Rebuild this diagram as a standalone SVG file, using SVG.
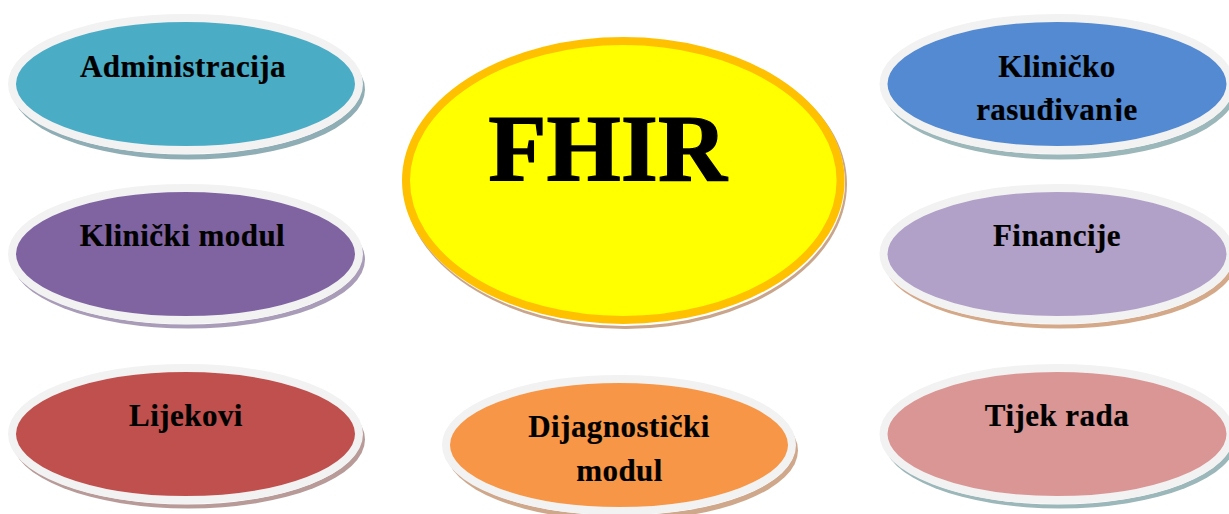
<svg xmlns="http://www.w3.org/2000/svg" width="1229" height="514" viewBox="0 0 1229 514">
<style>
.sh{stroke:none}
.gap{fill:#fff;stroke:none}
.e{stroke:#f2f2f2;stroke-width:8}
text{font-family:"Liberation Serif","Times New Roman",serif;font-weight:bold;fill:#000;stroke:#000;stroke-width:.2;text-anchor:middle;font-size:31px;letter-spacing:.45px}
</style>
<defs>
<clipPath id="clipR"><rect x="960" y="90" width="200" height="31"/></clipPath>
</defs>
<rect width="1229" height="514" fill="#fff"/>
<g id="connectors"/>
<g id="node-fhir">
<ellipse class="sh" cx="625.500" cy="184" rx="221.500" ry="145" fill="#c9a58c"/>
<ellipse class="gap" cx="624.500" cy="182.500" rx="220.500" ry="143.500"/>
<ellipse cx="623.300" cy="180.500" rx="217.300" ry="139.500" fill="#ffff00" stroke="#ffc000" stroke-width="8"/>
<text x="607.500" y="181" style="font-size:95.500px;letter-spacing:0;stroke-width:1.200">FHIR</text>
</g>
<g id="node-administracija">
<ellipse class="sh" cx="188.500" cy="89.500" rx="176.500" ry="70" fill="#8fadb4"/>
<ellipse class="gap" cx="186.500" cy="86" rx="175" ry="68.500"/>
<ellipse class="e" cx="185.500" cy="84" rx="173.500" ry="66" fill="#4bacc6"/>
<text x="183" y="77">Administracija</text>
</g>
<g id="node-klinicki-modul">
<ellipse class="sh" cx="188.500" cy="259.500" rx="176.500" ry="69" fill="#a99cb8"/>
<ellipse class="gap" cx="186.500" cy="256" rx="175" ry="68.500"/>
<ellipse class="e" cx="185.500" cy="254" rx="173.500" ry="66" fill="#8064a2"/>
<text x="182.500" y="246">Klinički modul</text>
</g>
<g id="node-lijekovi">
<ellipse class="sh" cx="188.500" cy="439.500" rx="176.500" ry="69" fill="#b89a98"/>
<ellipse class="gap" cx="186.500" cy="436" rx="175" ry="68.500"/>
<ellipse class="e" cx="185.500" cy="434" rx="173.500" ry="66" fill="#c0504d"/>
<text x="186" y="426">Lijekovi</text>
</g>
<g id="node-dijagnosticki-modul">
<ellipse class="sh" cx="622" cy="450.500" rx="176" ry="70" fill="#cfa88c"/>
<ellipse class="gap" cx="620" cy="447" rx="175" ry="68.500"/>
<ellipse class="e" cx="619" cy="445" rx="173" ry="66" fill="#f79646"/>
<text x="619" y="437">Dijagnostički</text>
<text x="619.500" y="481">modul</text>
</g>
<g id="node-klinicko-rasudivanje">
<ellipse class="sh" cx="1060" cy="89.500" rx="176.500" ry="70" fill="#9bb7b9"/>
<ellipse class="gap" cx="1058" cy="86" rx="175" ry="68.500"/>
<ellipse class="e" cx="1057" cy="84" rx="173.500" ry="66" fill="#538ad1"/>
<text x="1057" y="77">Kliničko</text>
<text x="1057" y="120" clip-path="url(#clipR)">rasuđivanje</text>
</g>
<g id="node-financije">
<ellipse class="sh" cx="1060" cy="259.500" rx="176.500" ry="69" fill="#d4a98a"/>
<ellipse class="gap" cx="1058" cy="256" rx="175" ry="68.500"/>
<ellipse class="e" cx="1057" cy="254" rx="173.500" ry="66" fill="#b1a0c7"/>
<text x="1057" y="246">Financije</text>
</g>
<g id="node-tijek-rada">
<ellipse class="sh" cx="1060" cy="439.500" rx="176.500" ry="69" fill="#9bb7b9"/>
<ellipse class="gap" cx="1058" cy="436" rx="175" ry="68.500"/>
<ellipse class="e" cx="1057" cy="434" rx="173.500" ry="66" fill="#d99694"/>
<text x="1057" y="426">Tijek rada</text>
</g>
</svg>
